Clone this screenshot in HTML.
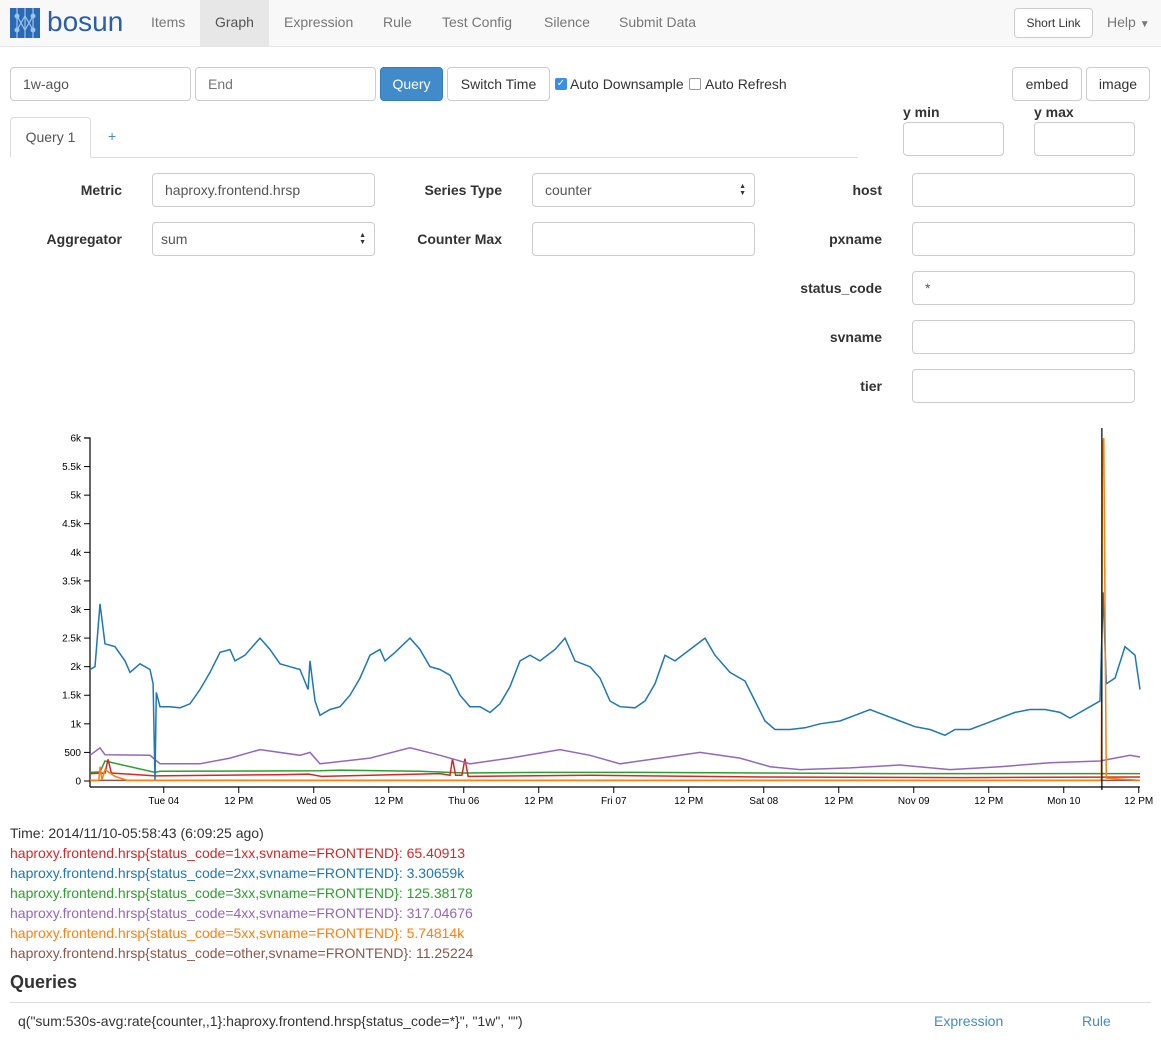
<!DOCTYPE html>
<html><head><meta charset="utf-8"><style>
*{box-sizing:border-box}
body{margin:0;width:1161px;height:1047px;overflow:hidden;font-family:"Liberation Sans",sans-serif;font-size:14px;color:#333;background:#fff;position:relative}
.abs{position:absolute;white-space:nowrap}
.nav{left:0;top:0;width:1161px;height:47px;background:#f8f8f8;border-bottom:1px solid #e7e7e7}
.ni{top:0;height:47px;line-height:44px;color:#777;font-size:14px;padding:0 15px}
.inp{border:1px solid #ccc;border-radius:4px;height:34px;background:#fff;padding:0 12px;line-height:32px;font-size:14px;color:#555}
.btn{border:1px solid #ccc;border-radius:4px;height:34px;background:#fff;line-height:32px;font-size:14px;color:#333;text-align:center}
.lbl{font-weight:bold;text-align:right;width:150px;line-height:34px}
.arr{position:absolute;right:8px;top:9px;font-size:7px;line-height:7px;color:#333}
.leg{left:10px;font-size:14px;line-height:20px}
</style></head><body>
<div class="abs nav"></div>
<svg class="abs" style="left:10px;top:8px" width="30" height="30"><rect width="30" height="30" fill="#2a6ab5"/><g stroke="#9cc3ea" stroke-width="1.2" fill="none"><path d="M7 0V30M15 0V30M23 0V30M7 8L15 22L23 8M7 22L15 8L23 22"/></g><g fill="#9cc3ea"><circle cx="7" cy="8" r="2.5"/><circle cx="23" cy="8" r="2.5"/><circle cx="7" cy="22" r="2.5"/><circle cx="23" cy="22" r="2.5"/></g></svg>
<div class="abs" style="left:47px;top:4px;font-size:28px;color:#2a5fa8;line-height:36px">bosun</div>
<div class="abs ni" style="left:136px">Items</div>
<div class="abs ni" style="left:200px;background:#e7e7e7;color:#555;width:69px">Graph</div>
<div class="abs ni" style="left:269px">Expression</div>
<div class="abs ni" style="left:368px">Rule</div>
<div class="abs ni" style="left:427px">Test Config</div>
<div class="abs ni" style="left:529px">Silence</div>
<div class="abs ni" style="left:604px">Submit Data</div>
<div class="abs btn" style="left:1014px;top:8px;width:79px;height:30px;line-height:28px;font-size:12px">Short Link</div>
<div class="abs ni" style="left:1092px">Help <span style="font-size:10px">▼</span></div>

<div class="abs inp" style="left:10px;top:67px;width:181px">1w-ago</div>
<div class="abs inp" style="left:195px;top:67px;width:181px;color:#777">End</div>
<div class="abs btn" style="left:380px;top:67px;width:63px;background:#428bca;border-color:#357ebd;color:#fff">Query</div>
<div class="abs btn" style="left:447px;top:67px;width:103px">Switch Time</div>
<div class="abs" style="left:555px;top:78px;width:12px;height:12px;background:#3a8ee6;border-radius:2px;color:#fff;font-size:10px;line-height:12px;text-align:center">✓</div>
<div class="abs" style="left:570px;top:76px">Auto Downsample</div>
<div class="abs" style="left:689px;top:78px;width:12px;height:12px;border:1px solid #999;border-radius:2px"></div>
<div class="abs" style="left:705px;top:76px">Auto Refresh</div>
<div class="abs btn" style="left:1012px;top:67px;width:70px">embed</div>
<div class="abs btn" style="left:1086px;top:67px;width:64px">image</div>
<div class="abs" style="left:903px;top:104px;font-weight:bold">y min</div>
<div class="abs" style="left:1034px;top:104px;font-weight:bold">y max</div>
<div class="abs inp" style="left:903px;top:122px;width:101px"></div>
<div class="abs inp" style="left:1034px;top:122px;width:101px"></div>

<div class="abs" style="left:10px;top:157px;width:848px;border-top:1px solid #ddd"></div>
<div class="abs" style="left:10px;top:117px;width:81px;height:41px;border:1px solid #ddd;border-bottom-color:#fff;border-radius:4px 4px 0 0;background:#fff;line-height:38px;text-align:center;color:#555">Query 1</div>
<div class="abs" style="left:108px;top:128px;color:#428bca">+</div>

<div class="abs lbl" style="left:-28px;top:173px">Metric</div>
<div class="abs inp" style="left:152px;top:173px;width:223px">haproxy.frontend.hrsp</div>
<div class="abs lbl" style="left:352px;top:173px">Series Type</div>
<div class="abs inp" style="left:532px;top:173px;width:223px">counter<span class="arr">▲<br>▼</span></div>
<div class="abs lbl" style="left:-28px;top:222px">Aggregator</div>
<div class="abs inp" style="left:152px;top:222px;width:223px;padding-left:8px">sum<span class="arr">▲<br>▼</span></div>
<div class="abs lbl" style="left:352px;top:222px">Counter Max</div>
<div class="abs inp" style="left:532px;top:222px;width:223px"></div>
<div class="abs lbl" style="left:732px;top:173px">host</div>
<div class="abs inp" style="left:912px;top:173px;width:223px"></div>
<div class="abs lbl" style="left:732px;top:222px">pxname</div>
<div class="abs inp" style="left:912px;top:222px;width:223px"></div>
<div class="abs lbl" style="left:732px;top:271px">status_code</div>
<div class="abs inp" style="left:912px;top:271px;width:223px">*</div>
<div class="abs lbl" style="left:732px;top:320px">svname</div>
<div class="abs inp" style="left:912px;top:320px;width:223px"></div>
<div class="abs lbl" style="left:732px;top:369px">tier</div>
<div class="abs inp" style="left:912px;top:369px;width:223px"></div>

<svg id="chart" class="abs" style="left:0;top:0" width="1161" height="820"></svg>

<div class="abs leg" style="top:823px">Time: 2014/11/10-05:58:43 (6:09:25 ago)</div>
<div class="abs leg" style="top:843px;color:#d62728">haproxy.frontend.hrsp{status_code=1xx,svname=FRONTEND}: 65.40913</div>
<div class="abs leg" style="top:863px;color:#1f77b4">haproxy.frontend.hrsp{status_code=2xx,svname=FRONTEND}: 3.30659k</div>
<div class="abs leg" style="top:883px;color:#2ca02c">haproxy.frontend.hrsp{status_code=3xx,svname=FRONTEND}: 125.38178</div>
<div class="abs leg" style="top:903px;color:#9467bd">haproxy.frontend.hrsp{status_code=4xx,svname=FRONTEND}: 317.04676</div>
<div class="abs leg" style="top:923px;color:#ff7f0e">haproxy.frontend.hrsp{status_code=5xx,svname=FRONTEND}: 5.74814k</div>
<div class="abs leg" style="top:943px;color:#8c564b">haproxy.frontend.hrsp{status_code=other,svname=FRONTEND}: 11.25224</div>
<div class="abs" style="left:10px;top:972px;font-size:18px;font-weight:bold">Queries</div>
<div class="abs" style="left:10px;top:1002px;width:1141px;border-top:1px solid #ddd"></div>
<div class="abs" style="left:18px;top:1013px">q("sum:530s-avg:rate{counter,,1}:haproxy.frontend.hrsp{status_code=*}", "1w", "")</div>
<div class="abs" style="left:934px;top:1013px;color:#428bca">Expression</div>
<div class="abs" style="left:1082px;top:1013px;color:#428bca">Rule</div>

<script>
const yTicks=[0,500,1000,1500,2000,2500,3000,3500,4000,4500,5000,5500,6000];
const yTickLabels=["0","500","1k","1.5k","2k","2.5k","3k","3.5k","4k","4.5k","5k","5.5k","6k"];
const xTickHours=[11.8,23.8,35.8,47.8,59.8,71.8,83.8,95.8,107.8,119.8,131.8,143.8,155.8,167.8];
const xTickLabels=["Tue 04","12 PM","Wed 05","12 PM","Thu 06","12 PM","Fri 07","12 PM","Sat 08","12 PM","Nov 09","12 PM","Mon 10","12 PM"];
const blueH=[0,0.8,1.6,2.4,4,5.6,6.4,8,9.6,10.1,10.4,10.6,11.2,12.8,14.4,16,17.6,19.2,20.8,22.4,23.2,24.8,27.2,28.8,30.4,32,33.6,34.9,35.2,36,36.8,38.4,40,41.6,43.2,44.8,46.4,47.2,48.8,51.2,52.8,54.4,56,57.6,59.2,60.8,62.4,64,65.6,67.2,68.8,70.4,72,74.4,76,77.6,80,81.6,83.2,84.8,87.2,88.8,90.4,92,93.6,96,98.4,100,102.4,104.8,106.4,108,109.6,112,114.4,116.8,120,122.4,124.8,127.2,129.6,132,134.4,136.8,138.4,140.8,143.2,145.6,148,150.4,152.8,155.2,156.8,158.4,160,161.6,162.1,162.6,164,165.6,167.2,168];
const blueV=[1950,2000,3100,2400,2350,2100,1900,2050,1950,1700,0,1550,1300,1300,1280,1350,1600,1900,2250,2300,2100,2200,2500,2300,2050,2000,1950,1600,2100,1400,1150,1250,1300,1500,1800,2200,2300,2100,2250,2500,2300,2000,1950,1850,1500,1300,1300,1200,1350,1650,2100,2200,2100,2300,2500,2100,2000,1800,1400,1300,1280,1400,1700,2200,2100,2300,2500,2200,1900,1750,1400,1050,900,900,930,1000,1050,1150,1250,1150,1050,950,900,800,900,900,1000,1100,1200,1250,1250,1200,1100,1200,1300,1400,3300,1700,1800,2350,2200,1600];
const purpleH=[0,1.6,2.4,9.6,11.2,17.6,22.4,27.2,33.6,35.2,36.8,44.8,51.2,56,60.8,67.2,75.2,80,84.8,91.2,97.6,104,108.8,113.6,121.6,129.6,137.6,145.6,153.6,161.6,166.4,168];
const purpleV=[450,580,460,450,300,300,400,550,450,500,300,400,580,450,300,400,550,450,300,400,500,400,250,200,230,280,200,250,320,350,450,420];
const greenH=[0,1.6,2.4,10.4,11.2,36.8,40,52.8,60,72,88,108,128,148,160,168];
const greenV=[150,160,350,150,170,180,190,170,140,150,150,140,130,130,130,130];
const redH=[0,2.4,2.9,3.4,10.4,30,35,37,56,57.6,58,58.5,59.5,60,60.5,61,80,108,140,168];
const redV=[130,140,380,140,90,110,120,80,130,100,390,100,100,390,80,80,100,70,60,70];
const orangeH=[0,1.4,1.6,1.9,2.4,4,6,60,110,161.8,162.0,162.2,162.4,162.6,168];
const orangeV=[10,10,250,20,200,80,10,10,10,10,5900,6000,3000,50,10];
const brownH=[0,168];
const brownV=[10,10];
const cursorHour=161.9;

const svg=document.getElementById('chart');
const NS='http://www.w3.org/2000/svg';
const X=h=>90+h*6.25, Y=v=>781-v*0.05717;
function mk(t,a){const e=document.createElementNS(NS,t);for(const k in a)e.setAttribute(k,a[k]);svg.appendChild(e);return e;}
let e=mk('path',{d:'M84 438H90V787M90 787H1140',stroke:'#000',fill:'none','stroke-width':1.2});


yTicks.forEach((v,i)=>{
  const t=mk('line',{x1:84,x2:90,y1:Y(v),y2:Y(v),stroke:'#000'});
  
  
  const l=mk('text',{x:81,y:Y(v)+3.5,'text-anchor':'end','font-size':10,'font-family':'Liberation Sans, sans-serif'});
  l.textContent=yTickLabels[i];
  
  
});
xTickHours.forEach((h,i)=>{
  const t=mk('line',{x1:X(h),x2:X(h),y1:787,y2:793,stroke:'#000'});
  
  
  const l=mk('text',{x:X(h),y:804,'text-anchor':'middle','font-size':10,'font-family':'Liberation Sans, sans-serif'});
  l.textContent=xTickLabels[i];
  
  
});
function line(H,V,c,name){
  const p=mk('path',{d:H.map((h,i)=>(i?'L':'M')+X(h).toFixed(1)+' '+Y(V[i]).toFixed(1)).join(''),stroke:c,fill:'none','stroke-width':1.5});
  
  
}
line(brownH,brownV,'#8c564b','series-other');
line(greenH,greenV,'#2ca02c','series-3xx');
line(redH,redV,'#d62728','series-1xx');
line(purpleH,purpleV,'#9467bd','series-4xx');
line(blueH,blueV,'#1f77b4','series-2xx');
line(orangeH,orangeV,'#ff7f0e','series-5xx');
const cl=mk('line',{x1:X(cursorHour),x2:X(cursorHour),y1:428,y2:790,stroke:'#000','stroke-width':1.2});


</script>
</body></html>
